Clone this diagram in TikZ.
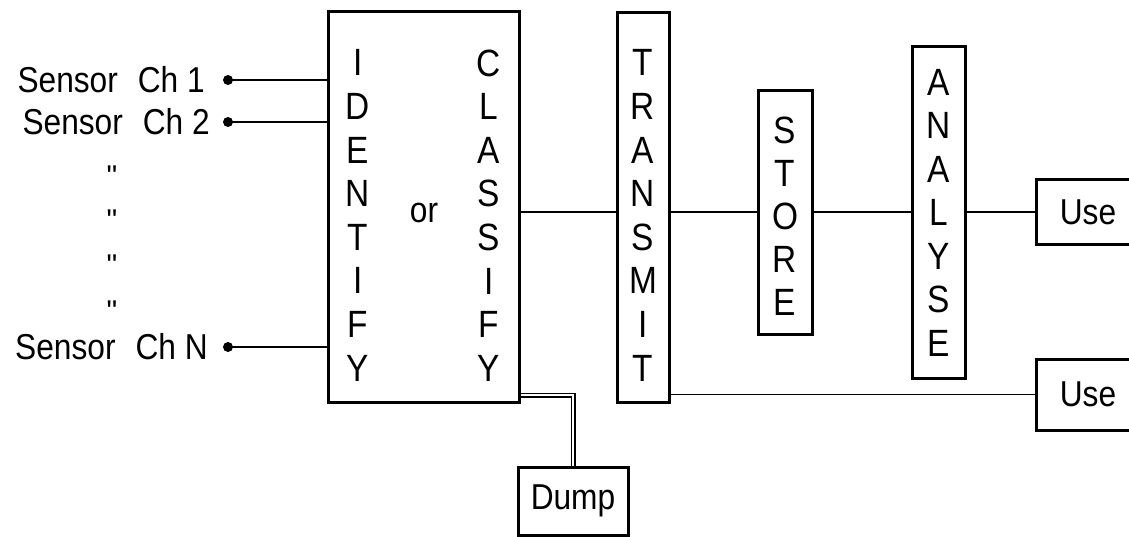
\documentclass[tikz,border=0pt]{standalone}
\usepackage{fontspec}
\setmainfont{Liberation Sans}[FakeStretch=0.88]
\newfontfamily\dittofont{Liberation Sans}[Ligatures=ResetAll]
\tikzset{
  box/.style={draw, line width=3pt, inner sep=0pt},
  conn/.style={line width=1.7pt},
  letters/.style={align=center, inner sep=0pt, font=\fontsize{38}{43.6}\selectfont},
  lbl/.style={inner sep=0pt, font=\fontsize{36}{40}\selectfont},
  dot/.style={circle, fill, inner sep=0pt, minimum size=10pt},
  ditto/.style={inner sep=0pt, font=\dittofont\fontsize{30}{36}\selectfont}
}
\begin{document}
\begin{tikzpicture}[x=1pt,y=-1pt]
\useasboundingbox (0,0) rectangle (1129,536);
% boxes
\node[box, minimum width=191pt, minimum height=391pt] (ic) at (423.5,206.5) {};
\node[box, minimum width=52pt, minimum height=390pt] (tx) at (643,207) {};
\node[box, minimum width=54pt, minimum height=244pt] (st) at (785,212) {};
\node[box, minimum width=53pt, minimum height=332pt] (an) at (938.5,212) {};
\node[box, minimum width=104pt, minimum height=65pt] (use1) at (1088,212) {};
\node[box, minimum width=104pt, minimum height=71pt] (use2) at (1088,394.5) {};
\node[box, minimum width=110pt, minimum height=68pt] (dump) at (573,501) {};
% texts
\node[letters] (tid) at (358,215.5) {I\\D\\E\\N\\T\\I\\F\\Y};
\node[letters] (tcl) at (489,215.5) {C\\L\\A\\S\\S\\I\\F\\Y};
\node[lbl] (tor) at (424,213) {or};
\node[letters] (ttx) at (643,215.5) {T\\R\\A\\N\\S\\M\\I\\T};
\node[letters, font=\fontsize{38}{43}\selectfont] (tst) at (785,216) {S\\T\\O\\R\\E};
\node[letters, font=\fontsize{38}{43.5}\selectfont] (tan) at (938.5,212.5) {A\\N\\A\\L\\Y\\S\\E};
\node[lbl] (tu1) at (1088,212) {Use};
\node[lbl] (tu2) at (1088,394.5) {Use};
\node[lbl] (tdu) at (573,501) {Dump};
% sensors
\node[lbl, anchor=east] (s1) at (205,80) {Sensor\hspace{20pt}Ch 1};
\node[lbl, anchor=east] (s2) at (210,122) {Sensor\hspace{20pt}Ch 2};
\node[lbl, anchor=east] (sn) at (208,347) {Sensor\hspace{20pt}Ch N};
\node[dot] (d1) at (228,80) {};
\node[dot] (d2) at (228,122) {};
\node[dot] (dn) at (228,347) {};
\node[ditto] (q1) at (112,176) {"};
\node[ditto] (q2) at (112,220) {"};
\node[ditto] (q3) at (112,265) {"};
\node[ditto] (q4) at (112,311) {"};
% connectors
\draw[conn] (d1.center) -- (d1.center -| ic.west);
\draw[conn] (d2.center) -- (d2.center -| ic.west);
\draw[conn] (dn.center) -- (dn.center -| ic.west);
\draw[conn] (ic.east |- st.west) -- (tx.west |- st.west);
\draw[conn] (tx.east |- st.west) -- (st.west);
\draw[conn] (st.east) -- (an.west);
\draw[conn] (an.east) -- (use1.west);
\draw[conn] (tx.east |- use2.west) -- (use2.west);
\coordinate (dj) at (519,395);
\draw[line width=1.3pt, double, double distance=2.4pt] (dj -| ic.east) -| (dump.north);
\end{tikzpicture}
\end{document}
